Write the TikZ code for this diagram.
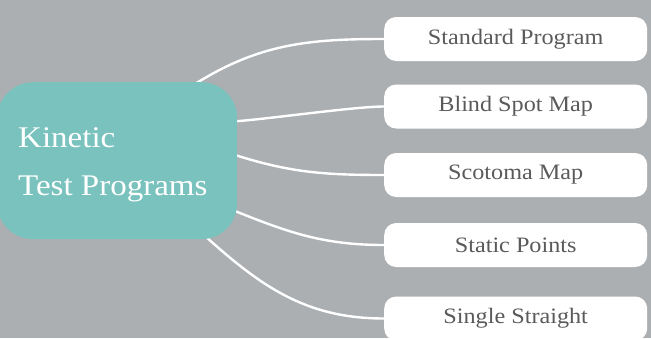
\documentclass[tikz,border=0pt]{standalone}
\usepackage{fontspec}
\setmainfont{Liberation Serif}[FakeStretch=1.1]
\usetikzlibrary{backgrounds}
\definecolor{bggray}{HTML}{ACAFB2}
\definecolor{teal1}{HTML}{79C2BD}
\definecolor{txtgray}{HTML}{5A5A5A}
\tikzset{
  leafbox/.style={fill=white, rounded corners=12pt, minimum width=263pt, minimum height=44pt,
    inner sep=0pt, anchor=west, text=txtgray, font=\fontsize{22}{26}\selectfont},
  centerbox/.style={fill=teal1, rounded corners=36pt, minimum width=240pt, minimum height=157pt,
    inner sep=0pt, anchor=north west},
  link/.style={draw=white, line width=2.4pt}
}
\begin{document}
\begin{tikzpicture}[x=1pt,y=-1pt]
\useasboundingbox (0,0) rectangle (651,338);
\node[centerbox] (c) at (-3,82) {};
\node[anchor=base west, inner sep=0pt, text=white, font=\fontsize{30}{48}\selectfont, align=left] (ct) at (18,195) {Kinetic\\Test Programs};
\node[leafbox] (b1) at (384,39) {Standard Program};
\node[leafbox] (b2) at (384,106.5) {Blind Spot Map};
\node[leafbox] (b3) at (384,175) {Scotoma Map};
\node[leafbox] (b4) at (384,245) {Static Points};
\node[leafbox] (b5) at (384,318.5) {Single Straight};
\coordinate (s1) at (195,84);
\coordinate (s2) at (232,121.5);
\coordinate (s3) at (232,154);
\coordinate (s4) at (230,209);
\coordinate (s5) at (205,236);
\begin{pgfonlayer}{background}
\fill[bggray] (0,0) rectangle (651,338);
\draw[link] (s1) to[out=32, in=180] (b1.west);
\draw[link] (s2) to[out=3, in=180, looseness=0.5] (b2.west);
\draw[link] (s3) to[out=-18, in=180] (b3.west);
\draw[link] (s4) to[out=-22, in=180] (b4.west);
\draw[link] (s5) to[out=-42, in=180] (b5.west);
\end{pgfonlayer}
\end{tikzpicture}
\end{document}
